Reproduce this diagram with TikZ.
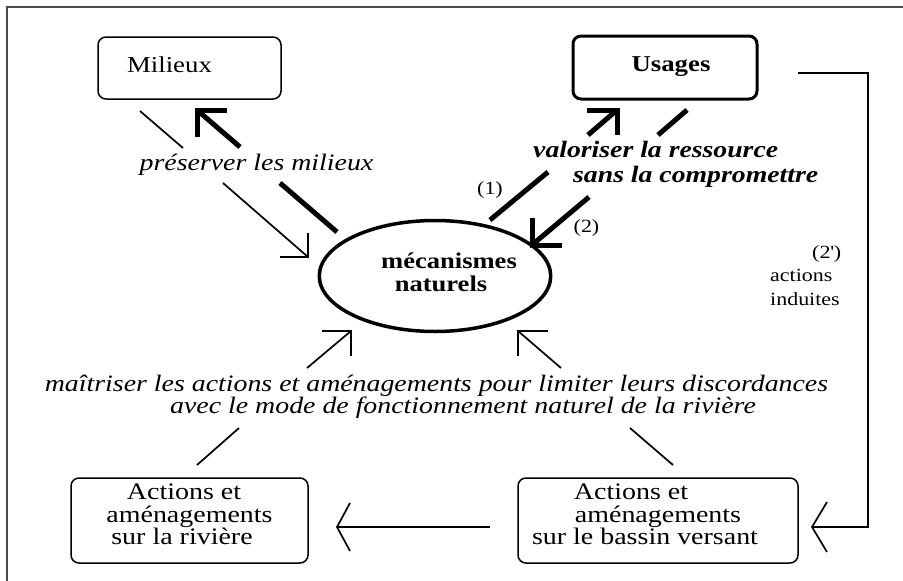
\documentclass[tikz,border=0pt]{standalone}
\usepackage{fontspec}
\setmainfont{Liberation Serif}[FakeStretch=1.18]
\usetikzlibrary{shapes.geometric}
\begin{document}
\begin{tikzpicture}[x=1pt,y=-1pt,
  boxnode/.style={draw, rounded corners=8pt, line width=1.5pt, inner sep=0pt, align=center},
  thinarrow/.style={line width=1.7pt, line join=miter},
  thickarrow/.style={line width=5pt, line join=miter},
  linkline/.style={line width=1.3pt, line join=miter},
  frameline/.style={line width=1.6pt, draw=black!70},
  italiclabel/.style={inner sep=0pt, font=\fontsize{23.6}{22}\selectfont\itshape},
  strongitalic/.style={inner sep=0pt, font=\fontsize{23.5}{25}\selectfont\bfseries\itshape},
  smalllabel/.style={inner sep=0pt, font=\fontsize{18.6}{23.5}\selectfont}
]
\useasboundingbox (0,0) rectangle (903,581);

% outer frame
\draw[frameline] (7,581) -- (7,7) -- (903,7);

% boxes
\node[boxnode, minimum width=183pt, minimum height=62pt,
      font=\fontsize{22.7}{24}\selectfont] (milieux) at (189.5,68)
      {\raisebox{-4pt}[0pt][0pt]{Milieux}\hspace*{40pt}};
\node[boxnode, line width=3pt, minimum width=184pt, minimum height=63pt,
      font=\fontsize{22.7}{24}\selectfont\bfseries] (usages) at (665,67.5)
      {\hspace*{12pt}\raisebox{-4.2pt}[0pt][0pt]{Usages}};
\node[draw, ellipse, line width=3.5pt, minimum width=226pt, minimum height=111pt,
      inner sep=0pt, align=center, text depth=7pt,
      font=\fontsize{22.5}{22.7}\selectfont\bfseries] (meca) at (435,276)
      {\hspace*{28pt}mécanismes\\\hspace*{12pt}naturels};
\node[boxnode, minimum width=237pt, minimum height=85pt, text depth=12pt,
      font=\fontsize{23.7}{22.5}\selectfont] (riviere) at (189.5,520.5)
      {Actions et\hspace*{11pt}\\aménagements\hspace*{17pt}\\sur la rivière\hspace*{15pt}};
\node[boxnode, minimum width=280pt, minimum height=85pt, text depth=12pt,
      font=\fontsize{23.7}{22.5}\selectfont] (bassin) at (658,520.5)
      {Actions et\hspace*{54pt}\\aménagements\hspace*{30pt}\\sur le bassin versant\hspace*{26pt}};

% labels
\node[italiclabel, anchor=base] (preserver) at (256.5,170.5) {préserver les milieux};
\node[strongitalic, align=left, anchor=base west] (valoriser) at (533,182)
      {valoriser la ressource\\\hspace*{40pt}sans la compromettre};
\node[italiclabel, align=center, anchor=base] (maitriser) at (436.5,413)
      {maîtriser les actions et aménagements pour limiter leurs discordances\\
       \hspace*{53pt}avec le mode de fonctionnement naturel de la rivière};
\node[smalllabel] (n1) at (490,190) {(1)};
\node[smalllabel] (n2) at (586.5,228) {(2)};
\node[smalllabel, align=left, anchor=base west] (n2p) at (770,305)
      {\hspace*{42pt}(2\textquotesingle)\\actions\\induites};

% connector end points
\coordinate (mA) at (140,111);  \coordinate (mB) at (183,148);
\coordinate (mC) at (223,183);  \coordinate (mT) at (308,257);
\coordinate (pA) at (337,232);  \coordinate (pB) at (280,183);
\coordinate (pC) at (240,147);  \coordinate (pT) at (197,110);
\coordinate (uA) at (490,220);  \coordinate (uB) at (548,172);
\coordinate (uC) at (588,135);  \coordinate (uT) at (617,110);
\coordinate (vA) at (687,110);  \coordinate (vB) at (658,135);
\coordinate (vC) at (589,197);  \coordinate (vT) at (532,245);
\coordinate (rA) at (197,465);  \coordinate (rB) at (239,428);
\coordinate (rC) at (307,368);  \coordinate (rT) at (351,331);
\coordinate (bA) at (673,465);  \coordinate (bB) at (630,428);
\coordinate (bC) at (561,368);  \coordinate (bT) at (518,331);
\coordinate (kA) at (798,73);   \coordinate (kT) at (812,527);
\coordinate (hA) at (490,527);  \coordinate (hT) at (337,527);

% Milieux -> mécanismes naturels
\draw[thinarrow] (mA) -- (mB);
\draw[thinarrow] (mC) -- (mT);
\draw[thinarrow] (280,257) -- (mT) -- (308,233);
% mécanismes naturels -> Milieux
\draw[thickarrow] (pA) -- (pB);
\draw[thickarrow] (pC) -- (pT);
\draw[thickarrow] (227,110) -- (pT) -- (197,137);
% (1) mécanismes naturels -> Usages
\draw[thickarrow] (uA) -- (uB);
\draw[thickarrow] (uC) -- (uT);
\draw[thickarrow] (587,110) -- (uT) -- (617,135);
% (2) Usages -> mécanismes naturels
\draw[thickarrow] (vA) -- (vB);
\draw[thickarrow] (vC) -- (vT);
\draw[thickarrow] (562,245) -- (vT) -- (532,218);
% actions -> mécanismes naturels
\draw[thinarrow] (rA) -- (rB);
\draw[thinarrow] (rC) -- (rT);
\draw[thinarrow] (322,331) -- (rT) -- (351,356);
\draw[thinarrow] (bA) -- (bB);
\draw[thinarrow] (bC) -- (bT);
\draw[thinarrow] (548,331) -- (bT) -- (518,356);
% (2') Usages -> bassin versant
\draw[linkline] (kA) -- (868,73) -- (868,527) -- (kT);
\draw[thinarrow] (827,502) -- (kT) -- (827,552);
% bassin versant -> rivière
\draw[thinarrow] (hA) -- (hT);
\draw[thinarrow] (350,503) -- (hT) -- (350,551);
\end{tikzpicture}
\end{document}
